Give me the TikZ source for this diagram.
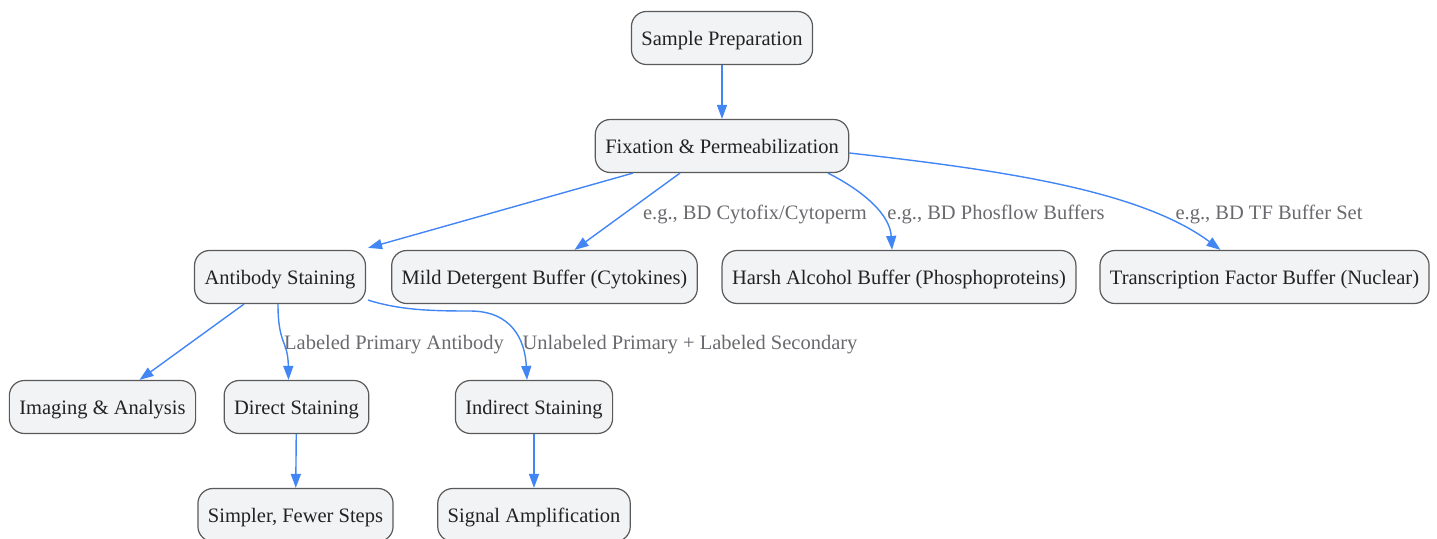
\documentclass[tikz,border=0pt]{standalone}
\usepackage{fontspec}
\setmainfont{Liberation Serif}
\usetikzlibrary{arrows.meta}
\definecolor{nodefill}{RGB}{242,243,245}
\definecolor{nodeline}{RGB}{90,90,90}
\definecolor{edgeblue}{RGB}{66,133,244}
\definecolor{labelgray}{RGB}{105,105,110}
\definecolor{txt}{RGB}{34,34,34}
\begin{document}
\begin{tikzpicture}[x=1pt,y=-1pt,
  box/.style={draw=nodeline, line width=1.2pt, fill=nodefill, rounded corners=15pt,
    minimum height=53pt, inner xsep=10pt, text=txt, text height=16pt, text depth=2pt,
    font=\fontsize{20.5}{24}\selectfont},
  flow/.style={draw=edgeblue, line width=1.4pt, -{Triangle[length=14pt,width=10pt]}},
  elabel/.style={text=labelgray, font=\fontsize{20.5}{24}\selectfont, inner sep=0pt,
    text height=16pt, text depth=2pt}]
\useasboundingbox (0,0) rectangle (1437,538);
\node[box] (sp) at (722,38) {Sample Preparation};
\node[box] (fix) at (722,146) {Fixation \& Permeabilization};
\node[box] (ab) at (280,277) {Antibody Staining};
\node[box] (mild) at (544.5,277) {Mild Detergent Buffer (Cytokines)};
\node[box] (harsh) at (899,277) {Harsh Alcohol Buffer (Phosphoproteins)};
\node[box] (tf) at (1264.5,277) {Transcription Factor Buffer (Nuclear)};
\node[box] (img) at (102.5,407) {Imaging \& Analysis};
\node[box] (dir) at (296.5,407) {Direct Staining};
\node[box] (ind) at (534,407) {Indirect Staining};
\node[box] (simp) at (295.5,515) {Simpler, Fewer Steps};
\node[box] (sig) at (534,515) {Signal Amplification};

\node[elabel] (l1) at (755,212) {e.g., BD Cytofix/Cytoperm};
\node[elabel] (l2) at (996,212) {e.g., BD Phosflow Buffers};
\node[elabel] (l3) at (1269,212) {e.g., BD TF Buffer Set};
\node[elabel] (l4) at (394,342) {Labeled Primary Antibody};
\node[elabel] (l5) at (690,342) {Unlabeled Primary + Labeled Secondary};

\draw[flow] (sp) -- (fix);
\draw[flow] ([xshift=-89pt]fix.south) -- ([xshift=2pt,yshift=2pt]ab.north east);
\draw[flow] ([xshift=-42pt]fix.south) -- ([xshift=30pt]mild.north);
\draw[flow] ([xshift=106pt]fix.south) .. controls (865,192) and (890,215) .. ([xshift=-7pt]harsh.north);
\draw[flow] ([yshift=-7pt]fix.east) .. controls (1000,170) and (1140,190) .. ([xshift=-44pt]tf.north);
\draw[flow] ([xshift=-36pt]ab.south) -- ([xshift=37pt]img.north);
\draw[flow] ([xshift=-2pt]ab.south) .. controls (278,345) and (288,340) .. ([xshift=-8pt]dir.north);
\draw[flow] ([xshift=2pt,yshift=4pt]ab.south east) .. controls (400,310) and (430,311) .. (470,311)
  .. controls (512,311) and (525,340) .. ([xshift=-7pt]ind.north);
\draw[flow] (dir) -- (simp);
\draw[flow] (ind) -- (sig);
\end{tikzpicture}
\end{document}
